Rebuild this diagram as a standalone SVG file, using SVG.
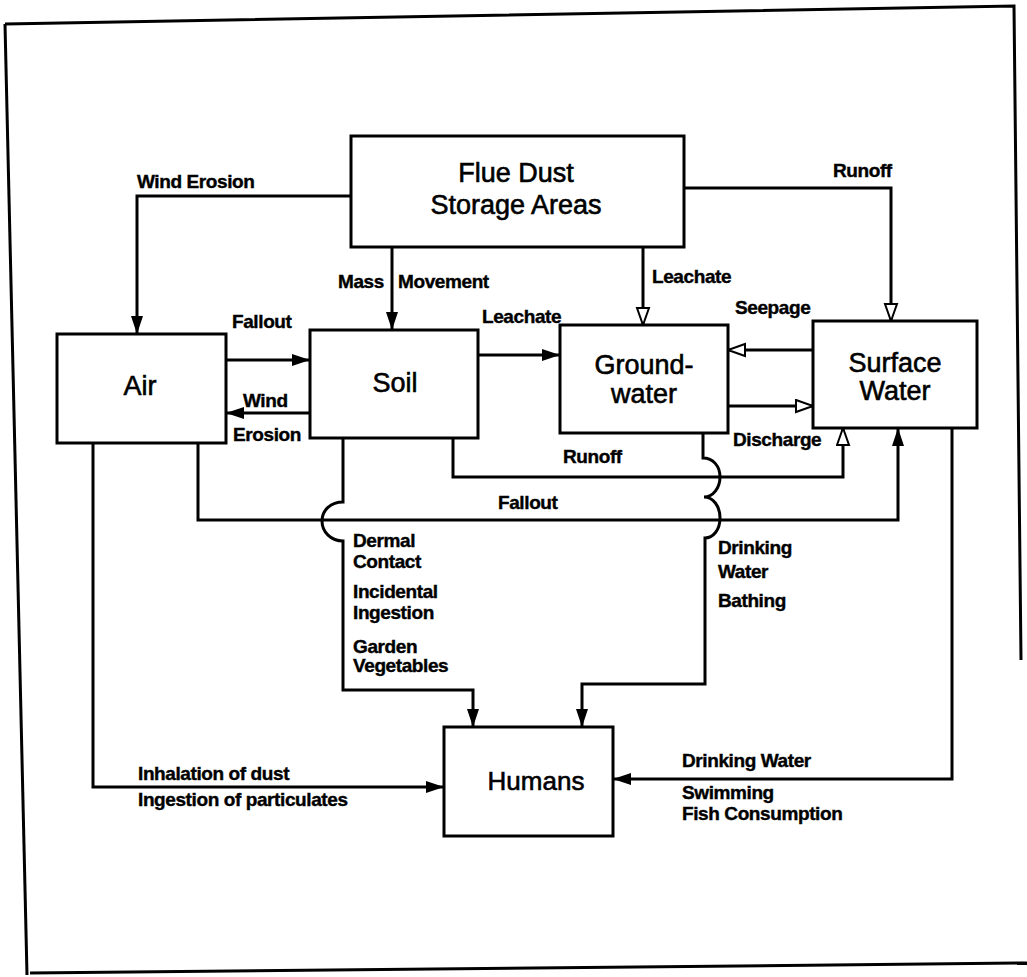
<svg xmlns="http://www.w3.org/2000/svg" width="1027" height="977" viewBox="0 0 1027 977">
<style>
.box{fill:#fff;stroke:#000;stroke-width:3}
.ln{fill:none;stroke:#000;stroke-width:3;stroke-linejoin:miter}
.nt{font-family:"Liberation Sans",Arial,sans-serif;font-size:27px;fill:#000;stroke:#000;stroke-width:0.6;text-anchor:middle}
.lb{font-family:"Liberation Sans",Arial,sans-serif;font-size:19px;font-weight:bold;fill:#000;stroke:#000;stroke-width:0.4;letter-spacing:-0.4px}
.frame{fill:none;stroke:#000;stroke-width:3}
</style>
<defs>
<marker id="af" markerUnits="userSpaceOnUse" markerWidth="20" markerHeight="14" refX="18" refY="6.5" orient="auto">
<path d="M0,0.5 L18,6.5 L0,12.5 z" fill="#000"/>
</marker>
<marker id="ao" markerUnits="userSpaceOnUse" markerWidth="22" markerHeight="16" refX="18" refY="7.5" orient="auto">
<path d="M1,1.5 L18,7.5 L1,13.5 z" fill="#fff" stroke="#000" stroke-width="2"/>
</marker>
</defs>
<rect width="1027" height="977" fill="#fff"/>
<g id="frame">
<path class="frame" d="M5,24 L1014,6 L1021,660"/>
<path class="frame" d="M5,24 L27,975"/>
<path class="frame" d="M30,973 L1027,963"/>
</g>
<g id="connectors">
<path class="ln" d="M351,196 H137 V334" marker-end="url(#af)"/>
<path class="ln" d="M392,247 V330" marker-end="url(#af)"/>
<path class="ln" d="M643,247 V325" marker-end="url(#ao)"/>
<path class="ln" d="M684,188 H891 V321" marker-end="url(#ao)"/>
<path class="ln" d="M226,360 H310" marker-end="url(#af)"/>
<path class="ln" d="M310,413 H226" marker-end="url(#af)"/>
<path class="ln" d="M478,355 H560" marker-end="url(#af)"/>
<path class="ln" d="M813,350 H728" marker-end="url(#ao)"/>
<path class="ln" d="M728,406 H813" marker-end="url(#ao)"/>
<path class="ln" d="M453,438 V477 H843 V428" marker-end="url(#ao)"/>
<path class="ln" d="M198,443 V520 H898 V428" marker-end="url(#af)"/>
<path class="ln" d="M343,438 V502 C331,502 322,510 322,521 C322,532 331,541 343,541 V690 H473 V727" marker-end="url(#af)"/>
<path class="ln" d="M703,433 V458 C713,458 720,466 720,477 C720,488 713,497 704,497 C713,497 720,506 720,518 C720,530 713,538 705,538 V684 H582 V727" marker-end="url(#af)"/>
<path class="ln" d="M952,428 V779 H613" marker-end="url(#af)"/>
<path class="ln" d="M93,443 V787 H444" marker-end="url(#af)"/>
</g>
<g id="flue">
<rect class="box" x="351" y="136" width="333" height="111"/>
<text class="nt" x="516" y="182">Flue Dust</text>
<text class="nt" x="516" y="214">Storage Areas</text>
</g>
<g id="air">
<rect class="box" x="57" y="334" width="169" height="109"/>
<text class="nt" x="140" y="395">Air</text>
</g>
<g id="soil">
<rect class="box" x="310" y="330" width="168" height="108"/>
<text class="nt" x="395" y="392">Soil</text>
</g>
<g id="groundwater">
<rect class="box" x="560" y="325" width="168" height="108"/>
<text class="nt" x="644" y="374">Ground-</text>
<text class="nt" x="644" y="403">water</text>
</g>
<g id="surfacewater">
<rect class="box" x="813" y="321" width="164" height="107"/>
<text class="nt" x="895" y="372">Surface</text>
<text class="nt" x="895" y="400">Water</text>
</g>
<g id="humans">
<rect class="box" x="444" y="727" width="169" height="109"/>
<text class="nt" x="536" y="790" style="font-size:26px">Humans</text>
</g>
<g id="labels">
<text class="lb" x="137" y="188">Wind Erosion</text>
<text class="lb" x="338" y="288">Mass</text>
<text class="lb" x="398" y="288">Movement</text>
<text class="lb" x="652" y="283">Leachate</text>
<text class="lb" x="833" y="177">Runoff</text>
<text class="lb" x="232" y="328">Fallout</text>
<text class="lb" x="243" y="407">Wind</text>
<text class="lb" x="233" y="441">Erosion</text>
<text class="lb" x="482" y="323">Leachate</text>
<text class="lb" x="735" y="314">Seepage</text>
<text class="lb" x="733" y="446">Discharge</text>
<text class="lb" x="563" y="463">Runoff</text>
<text class="lb" x="498" y="509">Fallout</text>
<text class="lb" x="353" y="547">Dermal</text>
<text class="lb" x="353" y="568">Contact</text>
<text class="lb" x="353" y="598">Incidental</text>
<text class="lb" x="353" y="619">Ingestion</text>
<text class="lb" x="353" y="653">Garden</text>
<text class="lb" x="353" y="672">Vegetables</text>
<text class="lb" x="718" y="554">Drinking</text>
<text class="lb" x="718" y="578">Water</text>
<text class="lb" x="718" y="607">Bathing</text>
<text class="lb" x="138" y="780">Inhalation of dust</text>
<text class="lb" x="138" y="806">Ingestion of particulates</text>
<text class="lb" x="682" y="767">Drinking Water</text>
<text class="lb" x="682" y="799">Swimming</text>
<text class="lb" x="682" y="820">Fish Consumption</text>
</g>
</svg>
